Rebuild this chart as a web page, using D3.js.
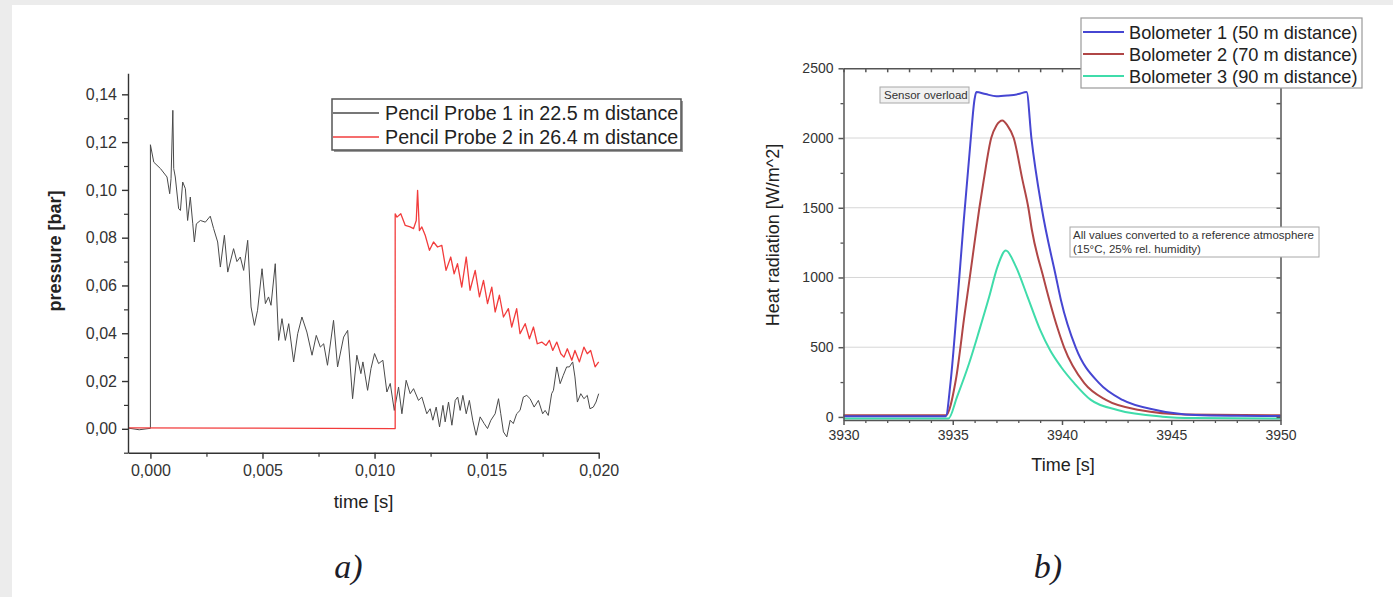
<!DOCTYPE html>
<html>
<head>
<meta charset="utf-8">
<script src="https://cdn.jsdelivr.net/npm/d3@7"></script>
<style>
  html, body { margin: 0; padding: 0; background: #ececec; }
  svg { display: block; }
  text { font-family: "Liberation Sans", Arial, sans-serif; }
</style>
</head>
<body>
<svg id="fig" width="1393" height="597"></svg>
<script>
// ---------- Panel a) : pencil probe pressure traces ----------
const probeTime1 = [-0.001, -0.0005, 0, 0, 0.00015, 0.00045, 0.00074, 0.00086, 0.00092, 0.00100, 0.00104, 0.00111,
  0.00126, 0.00134, 0.00144, 0.00156, 0.00166, 0.00178, 0.00189, 0.00196, 0.00205, 0.00223, 0.00245, 0.00267,
  0.00282, 0.00300, 0.00312, 0.00330, 0.00345, 0.00371, 0.00386, 0.00401, 0.00416, 0.00434, 0.00449, 0.00464,
  0.00478, 0.00498, 0.00513, 0.00527, 0.00538, 0.00557, 0.00572, 0.00587, 0.00602, 0.00617, 0.00639, 0.00657,
  0.00676, 0.00698, 0.00721, 0.00740, 0.00758, 0.00773, 0.00790, 0.00817, 0.00835, 0.00862, 0.00880, 0.00902,
  0.00921, 0.00939, 0.00948, 0.00969, 0.00984, 0.01000, 0.01018, 0.01037, 0.01055, 0.01070, 0.01088, 0.01107,
  0.01122, 0.01141, 0.01159, 0.01174, 0.01196, 0.01211, 0.01233, 0.01248, 0.01260, 0.01275, 0.01290, 0.01305,
  0.01315, 0.01330, 0.01345, 0.01360, 0.01371, 0.01382, 0.01394, 0.01409, 0.01423, 0.01438, 0.01453, 0.01471,
  0.01489, 0.01504, 0.01519, 0.01538, 0.01553, 0.01563, 0.01575, 0.01590, 0.01605, 0.01619, 0.01634, 0.01649,
  0.01664, 0.01679, 0.01694, 0.01712, 0.01731, 0.01750, 0.01761, 0.01775, 0.01790, 0.01798, 0.01813, 0.01828,
  0.01842, 0.01857, 0.01869, 0.01884, 0.01894, 0.01905, 0.01920, 0.01934, 0.01949, 0.01961, 0.01976, 0.01988,
  0.02000];
const probePressure1 = [0.0003, -0.0004, 0.0002, 0.1189, 0.1116, 0.1089, 0.1054, 0.0984, 0.1047, 0.1333, 0.1089, 0.1054,
  0.0921, 0.0914, 0.1033, 0.1005, 0.0872, 0.0970, 0.0858, 0.0782, 0.0858, 0.0872, 0.0865, 0.0890,
  0.0838, 0.0782, 0.0677, 0.0810, 0.0656, 0.0754, 0.0700, 0.0719, 0.0663, 0.0789, 0.0510, 0.0433,
  0.0496, 0.0670, 0.0524, 0.0552, 0.0517, 0.0691, 0.0370, 0.0461, 0.0370, 0.0440, 0.0280, 0.0398,
  0.0468, 0.0405, 0.0308, 0.0391, 0.0342, 0.0356, 0.0266, 0.0454, 0.0259, 0.0384, 0.0412, 0.0126,
  0.0308, 0.0231, 0.0280, 0.0161, 0.0252, 0.0315, 0.0273, 0.0287, 0.0154, 0.0190, 0.0077, 0.0175,
  0.0063, 0.0203, 0.0147, 0.0168, 0.0119, 0.0133, 0.0063, 0.0084, 0.0036, 0.0091, 0.0008, 0.0098,
  0.0029, 0.0112, 0.0015, 0.0119, 0.0133, 0.0077, 0.0140, 0.0063, 0.0119, 0.0036, -0.0027, 0.0050,
  0.0022, 0.0001, 0.0036, 0.0063, 0.0126, 0.0063, -0.0013, -0.0034, 0.0036, 0.0022, 0.0063, 0.0077,
  0.0133, 0.0140, 0.0126, 0.0091, 0.0119, 0.0063, 0.0077, 0.0056, 0.0147, 0.0161, 0.0259, 0.0189,
  0.0224, 0.0259, 0.0259, 0.0280, 0.0217, 0.0112, 0.0147, 0.0126, 0.0140, 0.0084, 0.0091, 0.0112,
  0.0147];

const probeTime2 = [-0.001, 0.004, 0.008, 0.01092, 0.01092, 0.01100, 0.01117, 0.01137, 0.01159, 0.01174, 0.01186, 0.01192,
  0.01200, 0.01211, 0.01226, 0.01245, 0.01263, 0.01281, 0.01300, 0.01319, 0.01340, 0.01355, 0.01370, 0.01389,
  0.01409, 0.01426, 0.01449, 0.01468, 0.01486, 0.01504, 0.01523, 0.01538, 0.01557, 0.01575, 0.01597, 0.01612,
  0.01634, 0.01649, 0.01672, 0.01691, 0.01709, 0.01726, 0.01746, 0.01765, 0.01780, 0.01795, 0.01813, 0.01831,
  0.01845, 0.01860, 0.01880, 0.01894, 0.01914, 0.01934, 0.01949, 0.01964, 0.01984, 0.02000];
const probePressure2 = [0.0004, 0.0003, 0.0002, 0.0001, 0.0900, 0.0886, 0.0900, 0.0851, 0.0845, 0.0838, 0.0872, 0.0998,
  0.0830, 0.0845, 0.0810, 0.0747, 0.0782, 0.0761, 0.0768, 0.0663, 0.0719, 0.0649, 0.0691, 0.0593,
  0.0719, 0.0580, 0.0663, 0.0552, 0.0621, 0.0524, 0.0593, 0.0489, 0.0559, 0.0468, 0.0503, 0.0426,
  0.0503, 0.0398, 0.0440, 0.0377, 0.0426, 0.0356, 0.0363, 0.0349, 0.0370, 0.0328, 0.0363, 0.0314,
  0.0300, 0.0335, 0.0287, 0.0328, 0.0280, 0.0342, 0.0314, 0.0328, 0.0259, 0.0280];

const probeLabels = ["Pencil Probe 1 in 22.5 m distance", "Pencil Probe 2 in 26.4 m distance"];
const probeColors = ["#4a4a4a", "#f23c3c"];
const pressureTicks = [0, 0.02, 0.04, 0.06, 0.08, 0.10, 0.12, 0.14];
const pressureMinor = [-0.01, 0.01, 0.03, 0.05, 0.07, 0.09, 0.11, 0.13];
const timeTicksA = [0, 0.005, 0.010, 0.015, 0.020];
const timeMinorA = [0.0025, 0.0075, 0.0125, 0.0175];

// ---------- Panel b) : bolometer heat radiation ----------
const boloTime1 = [3930, 3934.68, 3934.9, 3935.2, 3935.5, 3935.8, 3936.0, 3936.08, 3936.5, 3937.0, 3937.5, 3938.0, 3938.38,
  3938.6, 3939.07, 3939.73, 3939.95, 3940.63, 3941.7, 3942.77, 3944.3, 3946.1, 3948, 3950];
const boloHeat1 = [5, 5, 250, 800, 1400, 1950, 2280, 2330, 2315, 2300, 2305, 2315, 2330,
  2000, 1500, 1000, 839, 497, 242, 122, 50, 14, 8, 6];

const boloTime2 = [3930, 3934.68, 3935.14, 3935.55, 3935.78, 3935.98, 3936.22, 3936.42, 3936.76, 3937.0, 3937.27, 3937.5,
  3937.79, 3938.19, 3938.46, 3938.62, 3939.15, 3939.42, 3939.82, 3940.1, 3941.02, 3942.01, 3943.54, 3945.7, 3950];
const boloHeat2 = [12, 12, 265, 744, 1000, 1230, 1500, 1700, 2000, 2090, 2126, 2090,
  2000, 1700, 1500, 1342, 1000, 839, 625, 497, 242, 122, 50, 18, 12];

const boloTime3 = [3930, 3934.8, 3935.2, 3935.75, 3936.22, 3936.67, 3937.05, 3937.43, 3937.89, 3938.42, 3939.0,
  3939.45, 3939.95, 3940.56, 3941.32, 3942.54, 3944.6, 3946, 3950];
const boloHeat3 = [-12, -12, 146, 385, 624, 863, 1078, 1193, 1078, 863, 624,
  480, 360, 242, 122, 50, 2, -8, -12];

const boloLabels = ["Bolometer 1 (50 m distance)", "Bolometer 2 (70 m distance)", "Bolometer 3 (90 m distance)"];
const boloColors = ["#4646d2", "#b04646", "#3fdcaa"];
const heatTicks = [0, 500, 1000, 1500, 2000, 2500];
const heatMinor = [250, 750, 1250, 1750, 2250];
const heatGrid = [500, 1000, 1500, 2000];
const timeTicksB = [3930, 3935, 3940, 3945, 3950];
const timeMinorB = d3.range(3930, 3951).filter(v => v % 5 !== 0);

const noteLines = ["All values converted to a reference atmosphere", "(15°C, 25% rel. humidity)"];

// ---------- drawing ----------
const svg = d3.select("#fig");
svg.append("rect").attr("x", 12).attr("y", 5).attr("width", 1381).attr("height", 592).attr("fill", "#ffffff");

const commaLocale = d3.formatLocale({ decimal: ",", thousands: ".", grouping: [3], currency: ["", ""] });
const fmt2 = commaLocale.format(".2f");
const fmt3 = commaLocale.format(".3f");

function styleAxis(g, color, width, fontSize) {
  g.selectAll("path.domain").attr("stroke", color).attr("stroke-width", width);
  g.selectAll(".tick line").attr("stroke", color).attr("stroke-width", width);
  g.selectAll(".tick text").attr("fill", "#333").style("font-size", fontSize + "px")
    .style("font-family", '"Liberation Sans", Arial, sans-serif');
}

// Panel a)
const xA = d3.scaleLinear().domain([-0.001, 0.020]).range([128, 598.7]);
const yA = d3.scaleLinear().domain([-0.01, 0.1488]).range([452.7, 73.3]);
const panelA = svg.append("g");

const lineA = d3.line().x(d => xA(d[0])).y(d => yA(d[1]));
panelA.append("path").datum(d3.zip(probeTime1, probePressure1))
  .attr("d", lineA).attr("fill", "none").attr("stroke", probeColors[0]).attr("stroke-width", 1)
  .attr("stroke-linejoin", "round");
panelA.append("path").datum(d3.zip(probeTime2, probePressure2))
  .attr("d", lineA).attr("fill", "none").attr("stroke", probeColors[1]).attr("stroke-width", 1.3)
  .attr("stroke-linejoin", "round");

const axAb = panelA.append("g").attr("transform", `translate(0,${yA(-0.01)})`)
  .call(d3.axisBottom(xA).tickValues(timeTicksA).tickFormat(fmt3).tickSize(6).tickSizeOuter(0).tickPadding(6));
styleAxis(axAb, "#333", 1.4, 16);
const axAbm = panelA.append("g").attr("transform", `translate(0,${yA(-0.01)})`)
  .call(d3.axisBottom(xA).tickValues(timeMinorA).tickFormat("").tickSize(4).tickSizeOuter(0));
axAbm.select("path.domain").remove();
styleAxis(axAbm, "#333", 1.2, 16);

const axAl = panelA.append("g").attr("transform", `translate(${xA(-0.001)},0)`)
  .call(d3.axisLeft(yA).tickValues(pressureTicks).tickFormat(fmt2).tickSize(6).tickSizeOuter(0).tickPadding(5));
styleAxis(axAl, "#333", 1.4, 16);
const axAlm = panelA.append("g").attr("transform", `translate(${xA(-0.001)},0)`)
  .call(d3.axisLeft(yA).tickValues(pressureMinor).tickFormat("").tickSize(4).tickSizeOuter(0));
axAlm.select("path.domain").remove();
styleAxis(axAlm, "#333", 1.2, 16);

panelA.append("text").attr("x", 363.5).attr("y", 508).attr("text-anchor", "middle")
  .style("font-size", "18.5px").attr("fill", "#222").text("time [s]");
panelA.append("text").attr("transform", "translate(61,251) rotate(-90)").attr("text-anchor", "middle")
  .style("font-size", "18px").style("font-weight", "bold").attr("fill", "#222").text("pressure [bar]");

// legend a)
const legA = panelA.append("g");
legA.append("rect").attr("x", 334).attr("y", 101).attr("width", 349).attr("height", 51).attr("fill", "#9a9a9a");
legA.append("rect").attr("x", 332).attr("y", 99).attr("width", 349).attr("height", 51)
  .attr("fill", "#fff").attr("stroke", "#555").attr("stroke-width", 1.5);
probeLabels.forEach((lab, i) => {
  const yy = 113 + i * 24;
  legA.append("line").attr("x1", 333).attr("x2", 379).attr("y1", yy).attr("y2", yy)
    .attr("stroke", probeColors[i]).attr("stroke-width", 1.5);
  legA.append("text").attr("x", 385).attr("y", yy + 7).style("font-size", "19.7px").attr("fill", "#222").text(lab);
});

// Panel b)
const xB = d3.scaleLinear().domain([3930, 3950]).range([843.5, 1280.5]);
const yB = d3.scaleLinear().domain([-22, 2500]).range([420, 68.3]);
const panelB = svg.append("g");

panelB.selectAll("line.grid").data(heatGrid).join("line").attr("class", "grid")
  .attr("x1", xB(3930)).attr("x2", xB(3950)).attr("y1", d => yB(d)).attr("y2", d => yB(d))
  .attr("stroke", "#d6d6d6").attr("stroke-width", 1);

const lineB = d3.line().x(d => xB(d[0])).y(d => yB(d[1])).curve(d3.curveMonotoneX);
const boloSeries = [d3.zip(boloTime1, boloHeat1), d3.zip(boloTime2, boloHeat2), d3.zip(boloTime3, boloHeat3)];
[2, 1, 0].forEach(i => {
  panelB.append("path").datum(boloSeries[i]).attr("d", lineB).attr("fill", "none")
    .attr("stroke", boloColors[i]).attr("stroke-width", 2).attr("stroke-linejoin", "round");
});

const axBb = panelB.append("g").attr("transform", `translate(0,${yB(-22)})`)
  .call(d3.axisBottom(xB).tickValues(timeTicksB).tickSize(5).tickSizeOuter(0).tickPadding(5).tickFormat(d3.format("d")));
styleAxis(axBb, "#555", 1.5, 14);
const axBbm = panelB.append("g").attr("transform", `translate(0,${yB(-22)})`)
  .call(d3.axisBottom(xB).tickValues(timeMinorB).tickFormat("").tickSize(3).tickSizeOuter(0));
axBbm.select("path.domain").remove();
styleAxis(axBbm, "#555", 1.3, 14);

const axBt = panelB.append("g").attr("transform", `translate(0,${yB(2500)})`)
  .call(d3.axisTop(xB).tickValues(d3.range(3930, 3951)).tickFormat("").tickSize(-4).tickSizeOuter(0));
styleAxis(axBt, "#555", 1.5, 14);

const axBl = panelB.append("g").attr("transform", `translate(${xB(3930)},0)`)
  .call(d3.axisLeft(yB).tickValues(heatTicks).tickSize(5).tickSizeOuter(0).tickPadding(5).tickFormat(d3.format("d")));
styleAxis(axBl, "#555", 1.5, 14);
const axBlm = panelB.append("g").attr("transform", `translate(${xB(3930)},0)`)
  .call(d3.axisLeft(yB).tickValues(heatMinor).tickFormat("").tickSize(3).tickSizeOuter(0));
axBlm.select("path.domain").remove();
styleAxis(axBlm, "#555", 1.3, 14);

const axBr = panelB.append("g").attr("transform", `translate(${xB(3950)},0)`)
  .call(d3.axisRight(yB).tickValues(heatTicks.concat(heatMinor)).tickFormat("").tickSize(-4).tickSizeOuter(0));
styleAxis(axBr, "#555", 1.5, 14);

panelB.append("text").attr("x", 1063).attr("y", 471).attr("text-anchor", "middle")
  .style("font-size", "18px").attr("fill", "#222").text("Time [s]");
panelB.append("text").attr("transform", "translate(779,235) rotate(-90)").attr("text-anchor", "middle")
  .style("font-size", "18px").attr("fill", "#222").text("Heat radiation [W/m^2]");

// annotations
panelB.append("rect").attr("x", 880).attr("y", 87).attr("width", 89).attr("height", 16)
  .attr("fill", "#f1f1f1").attr("stroke", "#a8a8a8").attr("stroke-width", 1);
panelB.append("text").attr("x", 884).attr("y", 99).style("font-size", "11.5px").attr("fill", "#333").text("Sensor overload");

panelB.append("rect").attr("x", 1070).attr("y", 227).attr("width", 249).attr("height", 30)
  .attr("fill", "#fff").attr("stroke", "#a8a8a8").attr("stroke-width", 1);
noteLines.forEach((t, i) => {
  panelB.append("text").attr("x", 1073).attr("y", 239 + i * 14).style("font-size", "11.5px").attr("fill", "#333").text(t);
});

// legend b)
const legB = panelB.append("g");
legB.append("rect").attr("x", 1081).attr("y", 18).attr("width", 281).attr("height", 70)
  .attr("fill", "#fff").attr("stroke", "#9a9a9a").attr("stroke-width", 1.2);
boloLabels.forEach((lab, i) => {
  const yy = 32 + i * 22;
  legB.append("line").attr("x1", 1083).attr("x2", 1124).attr("y1", yy).attr("y2", yy)
    .attr("stroke", boloColors[i]).attr("stroke-width", 2);
  legB.append("text").attr("x", 1129).attr("y", yy + 6.5).style("font-size", "18.2px").attr("fill", "#222").text(lab);
});

// sub-figure captions
const captions = [["a)", 348.5], ["b)", 1048]];
captions.forEach(([t, cx]) => {
  svg.append("text").attr("x", cx).attr("y", 578).attr("text-anchor", "middle")
    .style("font-family", '"Liberation Serif", "Times New Roman", serif').style("font-style", "italic")
    .style("font-size", "34px").attr("fill", "#1c1c28").text(t);
});
</script>
</body>
</html>
